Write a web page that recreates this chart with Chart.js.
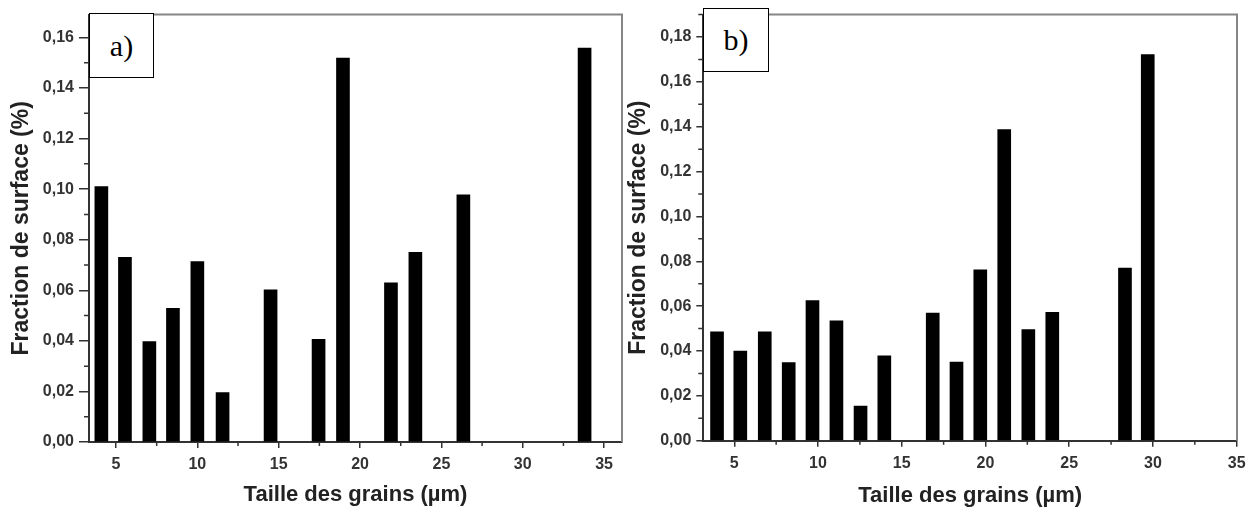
<!DOCTYPE html>
<html><head><meta charset="utf-8">
<script src="https://cdn.jsdelivr.net/npm/chart.js@4.4.0/dist/chart.umd.min.js"></script>
<style>
html,body{margin:0;padding:0;background:#fff;width:1256px;height:512px;overflow:hidden;}
canvas{position:absolute;left:0;top:0;}
.tag{position:absolute;border:1px solid #000;background:#fff;font-family:"Liberation Serif","DejaVu Serif",serif;font-size:30px;color:#000;display:flex;align-items:center;justify-content:center;box-sizing:border-box;}
</style></head><body>
<canvas id="cA" width="1256" height="512"></canvas>
<canvas id="cB" width="1256" height="512"></canvas>
<div class="tag" style="left:89px;top:13px;width:65px;height:65px;">a)</div>
<div class="tag" style="left:703px;top:7.5px;width:66px;height:64.5px;">b)</div>
<script>
// ---- data ----
const sizesA = [4.1, 5.55, 7.05, 8.5, 10.0, 11.55, 14.5, 17.45, 18.95, 21.9, 23.4, 26.35, 33.8];
const fractionsA = [0.101, 0.073, 0.0397, 0.0529, 0.0713, 0.0195, 0.0602, 0.0406, 0.1518, 0.0629, 0.075, 0.0977, 0.1558];
const sizesB = [3.97, 5.36, 6.82, 8.25, 9.67, 11.10, 12.54, 13.96, 16.85, 18.27, 19.69, 21.12, 22.56, 23.99, 28.33, 29.69];
const fractionsB = [0.0485, 0.040, 0.0485, 0.0348, 0.0625, 0.0535, 0.0154, 0.0378, 0.0569, 0.0351, 0.0762, 0.1387, 0.0495, 0.0572, 0.0770, 0.1722];
const xTicks = [5, 10, 15, 20, 25, 30, 35];
const yTicksA = [0, 0.02, 0.04, 0.06, 0.08, 0.10, 0.12, 0.14, 0.16];
const yTicksB = [0, 0.02, 0.04, 0.06, 0.08, 0.10, 0.12, 0.14, 0.16, 0.18];
const xTitle = 'Taille des grains (µm)';
const yTitle = 'Fraction de surface (%)';

Chart.defaults.font.family = '"Liberation Sans", Arial, sans-serif';

const minorTicks = {
  id: 'minorTicks',
  afterDraw(chart, args, o) {
    const ctx = chart.ctx;
    const xs = chart.scales.x, ys = chart.scales.y;
    const mids = (scale) => {
      const v = scale.ticks.map(t => t.value);
      const out = [];
      const step = v[1] - v[0];
      if (v[0] - step / 2 >= scale.min) out.push(v[0] - step / 2);
      for (let i = 0; i < v.length - 1; i++) out.push((v[i] + v[i + 1]) / 2);
      if (v[v.length - 1] + step / 2 <= scale.max) out.push(v[v.length - 1] + step / 2);
      return out;
    };
    ctx.save();
    ctx.strokeStyle = '#333';
    ctx.lineWidth = 1.5;
    ctx.beginPath();
    mids(xs).forEach(v => { const p = xs.getPixelForValue(v); ctx.moveTo(p, xs.top); ctx.lineTo(p, xs.top + o.xLen); });
    mids(ys).forEach(v => { const p = ys.getPixelForValue(v); ctx.moveTo(ys.right, p); ctx.lineTo(ys.right - o.yLen, p); });
    ctx.stroke();
    // frame (top and right edges)
    const a = chart.chartArea;
    ctx.strokeStyle = '#858585';
    ctx.lineWidth = 2;
    ctx.beginPath();
    ctx.moveTo(a.left, a.top); ctx.lineTo(a.right, a.top); ctx.lineTo(a.right, a.bottom);
    ctx.stroke();
    ctx.restore();
  }
};

function makeChart(id, sizes, fracs, yTicks, cfg) {
  return new Chart(document.getElementById(id), {
    type: 'bar',
    data: {
      datasets: [{
        data: sizes.map((x, i) => ({ x: x, y: fracs[i] })),
        backgroundColor: '#000',
        borderWidth: 0,
        barThickness: 13
      }]
    },
    plugins: [minorTicks],
    options: {
      responsive: false,
      animation: false,
      layout: { padding: cfg.pad },
      plugins: {
        legend: { display: false },
        tooltip: { enabled: false },
        minorTicks: { xLen: 4, yLen: 5 }
      },
      scales: {
        x: {
          type: 'linear',
          min: cfg.xmin, max: cfg.xmax,
          offset: false,
          afterFit: s => { s.height = cfg.xh; },
          afterBuildTicks: s => { s.ticks = xTicks.map(v => ({ value: v })); },
          grid: { offset: false, drawOnChartArea: false, drawTicks: true, tickLength: 6, color: '#333', lineWidth: 1.5 },
          border: { color: '#333', width: 2 },
          ticks: { padding: 7, color: '#333', font: { size: 16, weight: 'bold' }, maxRotation: 0, callback: v => String(v) },
          title: { display: true, text: xTitle, color: '#222', font: { size: 22, weight: 'bold' }, padding: { top: 0, bottom: cfg.xtp } }
        },
        y: {
          type: 'linear',
          min: 0, max: cfg.ymax,
          afterFit: s => { s.width = cfg.yw; },
          afterBuildTicks: s => { s.ticks = yTicks.map(v => ({ value: v })); },
          grid: { drawOnChartArea: false, drawTicks: true, tickLength: cfg.ytl, color: '#333', lineWidth: 1.5 },
          border: { color: '#333', width: 2 },
          ticks: { padding: 5, color: '#333', font: { size: 16, weight: 'bold' }, callback: v => v.toFixed(2).replace('.', ',') },
          title: { display: true, text: yTitle, color: '#222', font: { size: 23, weight: 'bold' }, padding: { top: cfg.ytp, bottom: 0 } }
        }
      }
    }
  });
}

makeChart('cA', sizesA, fractionsA, yTicksA, {
  pad: { left: 0, top: 13, right: 634, bottom: 0 },
  xmin: 3.34, xmax: 36.1, ymax: 0.169,
  yw: 89, xh: 70, ytl: 10, ytp: 8.2, xtp: 3.8
});
makeChart('cB', sizesB, fractionsB, yTicksB, {
  pad: { left: 620, top: 9.3, right: 19, bottom: 0 },
  xmin: 3.15, xmax: 35.02, ymax: 0.19,
  yw: 83.3, xh: 71.3, ytl: 7, ytp: 4.7, xtp: 3
});
</script>
</body></html>
